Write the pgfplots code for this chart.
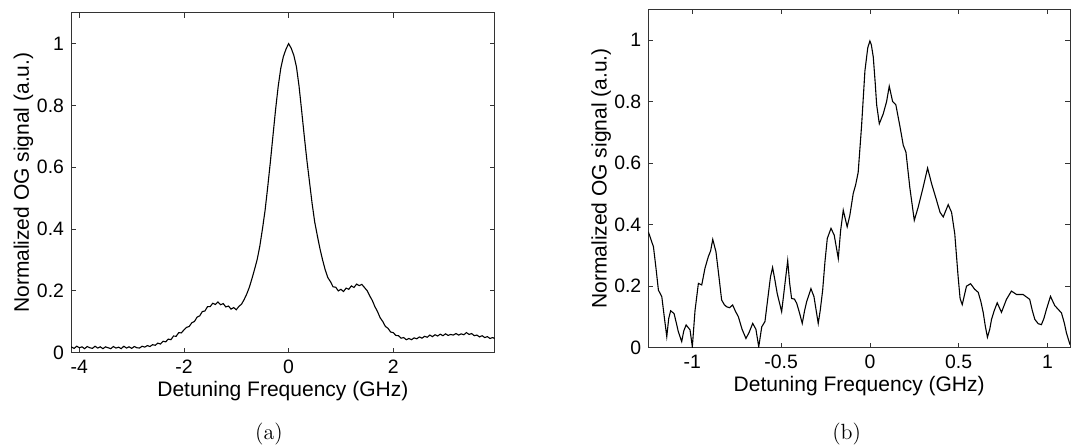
\documentclass[border=0pt]{standalone}
\usepackage{fontspec}
\usepackage{pgfplots}
\pgfplotsset{compat=1.18}
\newfontfamily\arial{Liberation Sans}

\pgfplotsset{myax/.style={
  scale only axis,
  axis line style={black!80, line width=0.45pt},
  tick align=inside,
  major tick length=2.4pt,
  tick style={black!80, line width=0.4pt},
  ymin=0, ymax=1.1,
  ytick={0,0.2,0.4,0.6,0.8,1},
  /pgf/number format/assume math mode=true,
  tick label style={font=\arial\fontsize{9.7}{11}\selectfont},
  label style={font=\arial\fontsize{10.5}{12}\selectfont},
  xlabel={Detuning Frequency (GHz)},
  ylabel={Normalized OG signal (a.u.)},
  xlabel style={at={(axis description cs:0.5,-0.114)}, anchor=center},
  ylabel style={at={(axis description cs:-0.112,0.5)}, anchor=center},
  clip=true,
}}

\begin{document}
\begin{tikzpicture}
\useasboundingbox (0pt,0pt) rectangle (535.5pt,222.5pt);

\begin{axis}[myax, at={(35.5pt,46.15pt)}, anchor=south west,
  width=211.85pt, height=170pt,
  xmin=-4.16, xmax=3.94, xtick={-4,-2,0,2}]
\addplot[black, line width=0.55pt, no markers] coordinates {
(-4.16,0.019) (-4.10,0.014) (-4.05,0.021) (-4.00,0.016) (-3.95,0.019) (-3.90,0.013)
(-3.85,0.020) (-3.80,0.016) (-3.75,0.014) (-3.70,0.021) (-3.65,0.015) (-3.60,0.019)
(-3.55,0.013) (-3.50,0.019) (-3.45,0.016) (-3.40,0.013) (-3.35,0.020) (-3.30,0.015)
(-3.25,0.018) (-3.20,0.013) (-3.15,0.021) (-3.10,0.015) (-3.05,0.019) (-3.00,0.014)
(-2.95,0.020) (-2.90,0.016) (-2.85,0.015) (-2.80,0.021) (-2.75,0.018) (-2.70,0.023)
(-2.65,0.020) (-2.60,0.026) (-2.55,0.024) (-2.50,0.031) (-2.45,0.028) (-2.40,0.037)
(-2.35,0.035) (-2.30,0.044) (-2.25,0.042) (-2.20,0.054) (-2.15,0.053) (-2.10,0.065)
(-2.05,0.064) (-2.00,0.074) (-1.95,0.082) (-1.90,0.085) (-1.85,0.097) (-1.80,0.101)
(-1.75,0.115) (-1.70,0.119) (-1.65,0.133) (-1.60,0.135) (-1.55,0.149) (-1.50,0.149)
(-1.45,0.160) (-1.40,0.156) (-1.35,0.164) (-1.30,0.155) (-1.25,0.159) (-1.20,0.148)
(-1.15,0.151) (-1.10,0.141) (-1.05,0.146) (-1.00,0.139) (-0.95,0.150) (-0.90,0.157)
(-0.85,0.172) (-0.80,0.190) (-0.75,0.212) (-0.70,0.240) (-0.65,0.270) (-0.60,0.302)
(-0.55,0.345) (-0.50,0.400) (-0.45,0.460) (-0.40,0.535) (-0.35,0.615) (-0.30,0.700)
(-0.25,0.785) (-0.20,0.860) (-0.15,0.920) (-0.10,0.958) (-0.05,0.982) (0.00,1.000)
(0.05,0.985) (0.10,0.962) (0.15,0.925) (0.20,0.862) (0.25,0.782) (0.30,0.700)
(0.35,0.622) (0.40,0.552) (0.45,0.482) (0.50,0.422) (0.55,0.378) (0.60,0.336)
(0.65,0.300) (0.70,0.268) (0.75,0.243) (0.80,0.230) (0.85,0.213) (0.90,0.212)
(0.95,0.200) (1.00,0.205) (1.05,0.198) (1.10,0.209) (1.15,0.205) (1.20,0.216)
(1.25,0.211) (1.30,0.222) (1.35,0.217) (1.40,0.221) (1.45,0.211) (1.50,0.201)
(1.55,0.184) (1.60,0.169) (1.65,0.149) (1.70,0.133) (1.75,0.113) (1.80,0.101)
(1.85,0.085) (1.90,0.079) (1.95,0.067) (2.00,0.065) (2.05,0.056) (2.10,0.055)
(2.15,0.047) (2.20,0.049) (2.25,0.042) (2.30,0.046) (2.35,0.042) (2.40,0.048)
(2.45,0.045) (2.50,0.051) (2.55,0.047) (2.60,0.053) (2.65,0.050) (2.70,0.057)
(2.75,0.052) (2.80,0.058) (2.85,0.054) (2.90,0.060) (2.95,0.055) (3.00,0.061)
(3.05,0.056) (3.10,0.059) (3.15,0.057) (3.20,0.062) (3.25,0.057) (3.30,0.061)
(3.35,0.058) (3.40,0.065) (3.45,0.059) (3.50,0.062) (3.55,0.055) (3.60,0.057)
(3.65,0.051) (3.70,0.055) (3.75,0.049) (3.80,0.052) (3.85,0.046) (3.90,0.049)
(3.94,0.046)
};
\end{axis}

\begin{axis}[myax, at={(324.15pt,48.65pt)}, anchor=south west,
  width=210.85pt, height=169.2pt,
  xmin=-1.248, xmax=1.127, xtick={-1,-0.5,0,0.5,1}]
\addplot[black, line width=0.55pt, no markers] coordinates {
(-1.248,0.377) (-1.235,0.355) (-1.219,0.328) (-1.205,0.260) (-1.191,0.187) (-1.172,0.166)
(-1.158,0.100) (-1.144,0.036) (-1.133,0.095) (-1.122,0.120) (-1.103,0.111) (-1.090,0.080)
(-1.079,0.052) (-1.060,0.020) (-1.048,0.055) (-1.035,0.074) (-1.013,0.058) (-1.000,0.003)
(-0.985,0.120) (-0.966,0.209) (-0.947,0.204) (-0.929,0.258) (-0.910,0.296) (-0.897,0.315)
(-0.885,0.352) (-0.867,0.312) (-0.850,0.230) (-0.835,0.155) (-0.820,0.140) (-0.807,0.133)
(-0.790,0.130) (-0.773,0.139) (-0.757,0.118) (-0.741,0.101) (-0.720,0.060) (-0.698,0.030)
(-0.680,0.050) (-0.660,0.079) (-0.642,0.060) (-0.626,0.003) (-0.609,0.068) (-0.591,0.085)
(-0.575,0.160) (-0.560,0.230) (-0.548,0.261) (-0.535,0.220) (-0.522,0.176) (-0.497,0.117)
(-0.480,0.200) (-0.463,0.283) (-0.452,0.210) (-0.441,0.160) (-0.425,0.158) (-0.412,0.144)
(-0.395,0.110) (-0.381,0.079) (-0.368,0.120) (-0.356,0.150) (-0.332,0.192) (-0.315,0.166)
(-0.291,0.079) (-0.280,0.120) (-0.266,0.187) (-0.253,0.280) (-0.240,0.355) (-0.219,0.388)
(-0.201,0.366) (-0.178,0.290) (-0.165,0.380) (-0.150,0.447) (-0.128,0.393) (-0.113,0.430)
(-0.094,0.501) (-0.080,0.530) (-0.066,0.570) (-0.047,0.720) (-0.028,0.900) (-0.012,0.975)
(0.000,0.997) (0.008,0.985) (0.019,0.945) (0.030,0.860) (0.038,0.790) (0.053,0.728)
(0.075,0.760) (0.094,0.800) (0.109,0.850) (0.128,0.800) (0.146,0.790) (0.169,0.720)
(0.188,0.658) (0.203,0.636) (0.225,0.520) (0.250,0.414) (0.272,0.457) (0.300,0.522)
(0.325,0.584) (0.347,0.534) (0.375,0.480) (0.395,0.440) (0.413,0.425) (0.441,0.465)
(0.460,0.440) (0.478,0.370) (0.497,0.230) (0.508,0.160) (0.520,0.140) (0.532,0.170)
(0.544,0.200) (0.567,0.208) (0.590,0.190) (0.610,0.180) (0.625,0.150) (0.638,0.115)
(0.650,0.070) (0.662,0.034) (0.675,0.060) (0.685,0.092) (0.700,0.120) (0.717,0.146)
(0.741,0.115) (0.769,0.157) (0.797,0.184) (0.826,0.173) (0.863,0.173) (0.900,0.157)
(0.915,0.120) (0.929,0.092) (0.948,0.078) (0.966,0.075) (0.980,0.095) (0.994,0.124)
(1.017,0.167) (1.041,0.137) (1.060,0.125) (1.079,0.113) (1.095,0.080) (1.107,0.048)
(1.127,0.010)
};
\end{axis}

\node[font=\fontsize{11}{13}\selectfont, inner sep=0pt] at (134.5pt,5.3pt) {(a)};
\node[font=\fontsize{11}{13}\selectfont, inner sep=0pt] at (423.35pt,5.3pt) {(b)};
\end{tikzpicture}
\end{document}
